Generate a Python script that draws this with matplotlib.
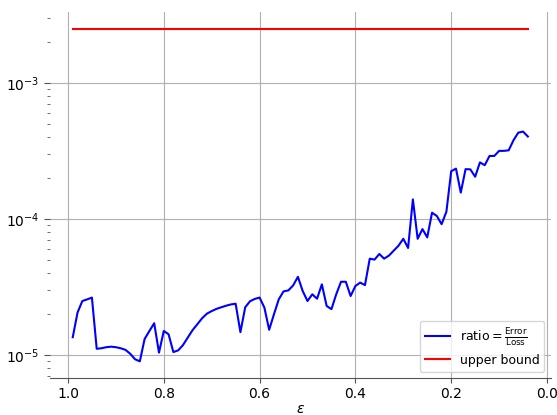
import matplotlib
matplotlib.use("Agg")
import matplotlib.pyplot as plt
import numpy as np

eps = [0.99, 0.98, 0.97, 0.96, 0.95, 0.94, 0.93, 0.92, 0.91, 0.90,
       0.89, 0.88, 0.87, 0.86, 0.85, 0.84, 0.83, 0.82, 0.81, 0.80,
       0.79, 0.78, 0.77, 0.76, 0.75, 0.74, 0.73, 0.72, 0.71, 0.70,
       0.69, 0.68, 0.67, 0.66, 0.65, 0.64, 0.63, 0.62, 0.61, 0.60,
       0.59, 0.58, 0.57, 0.56, 0.55, 0.54, 0.53, 0.52, 0.51, 0.50,
       0.49, 0.48, 0.47, 0.46, 0.45, 0.44, 0.43, 0.42, 0.41, 0.40,
       0.39, 0.38, 0.37, 0.36, 0.35, 0.34, 0.33, 0.32, 0.31, 0.30,
       0.29, 0.28, 0.27, 0.26, 0.25, 0.24, 0.23, 0.22, 0.21, 0.20,
       0.19, 0.18, 0.17, 0.16, 0.15, 0.14, 0.13, 0.12, 0.11, 0.10,
       0.09, 0.08, 0.07, 0.06, 0.05, 0.04]

ratio = [1.35e-5, 2.05e-5, 2.49e-5, 2.56e-5, 2.64e-5, 1.11e-5, 1.12e-5, 1.14e-5, 1.15e-5, 1.14e-5,
         1.12e-5, 1.09e-5, 1.02e-5, 9.3e-6, 8.97e-6, 1.31e-5, 1.50e-5, 1.71e-5, 1.04e-5, 1.50e-5,
         1.42e-5, 1.05e-5, 1.08e-5, 1.18e-5, 1.34e-5, 1.52e-5, 1.68e-5, 1.86e-5, 2.01e-5, 2.10e-5,
         2.18e-5, 2.24e-5, 2.30e-5, 2.35e-5, 2.38e-5, 1.47e-5, 2.24e-5, 2.48e-5, 2.58e-5, 2.64e-5,
         2.23e-5, 1.53e-5, 1.99e-5, 2.56e-5, 2.93e-5, 2.98e-5, 3.24e-5, 3.75e-5, 2.95e-5, 2.49e-5,
         2.79e-5, 2.59e-5, 3.30e-5, 2.29e-5, 2.17e-5, 2.79e-5, 3.45e-5, 3.45e-5, 2.71e-5, 3.21e-5,
         3.40e-5, 3.26e-5, 5.10e-5, 5.02e-5, 5.52e-5, 5.10e-5, 5.37e-5, 5.84e-5, 6.35e-5, 7.14e-5,
         6.11e-5, 1.39e-4, 7.14e-5, 8.41e-5, 7.31e-5, 1.11e-4, 1.05e-4, 9.14e-5, 1.13e-4, 2.24e-4,
         2.34e-4, 1.56e-4, 2.32e-4, 2.31e-4, 2.04e-4, 2.60e-4, 2.48e-4, 2.90e-4, 2.90e-4, 3.16e-4,
         3.16e-4, 3.19e-4, 3.78e-4, 4.30e-4, 4.38e-4, 4.03e-4]

upper_bound_value = 2.5e-3
upper_bound = [upper_bound_value] * len(eps)

xticks = [1.0, 0.8, 0.6, 0.4, 0.2, 0.0]
xticklabels = ["1.0", "0.8", "0.6", "0.4", "0.2", "0.0"]

fig = plt.figure(figsize=(5.57, 4.15), dpi=100)
ax = fig.add_axes([50 / 557, 1 - 378 / 415, (550.6 - 50) / 557, (378 - 12) / 415])

ax.plot(eps, ratio, color="blue", lw=1.5, label=r"ratio$=\frac{\rm Error}{\rm Loss}$")
ax.plot(eps, upper_bound, color="red", lw=1.5, label="upper bound")
ax.set_yscale("log")
ax.invert_xaxis()
ax.set_xticks(xticks)
ax.set_xticklabels(xticklabels)
ax.set_xlabel(r"$\varepsilon$", labelpad=0.5)

ax.grid(True, which="major", color="#b0b0b0", lw=0.8)
ax.set_axisbelow(True)
for s in ["top", "right", "left"]:
    ax.spines[s].set_visible(False)
ax.spines["bottom"].set_color("#555555")
ax.tick_params(axis="x", colors="#555555", labelcolor="black", pad=3)
ax.tick_params(axis="y", which="major", colors="#555555", labelcolor="black", length=4)
ax.tick_params(axis="y", which="minor", colors="#555555", length=2)

ax.legend(loc="lower right", fontsize=9)

fig.savefig("out.png", dpi=100)
